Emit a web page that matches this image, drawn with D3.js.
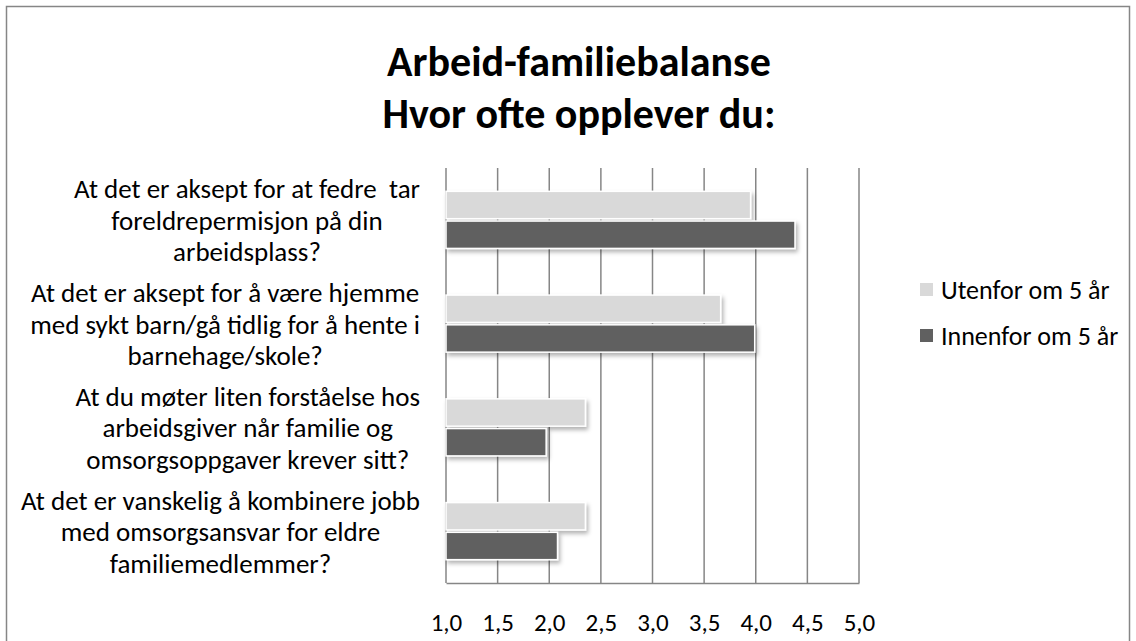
<!DOCTYPE html>
<html>
<head>
<meta charset="utf-8">
<script src="https://cdn.jsdelivr.net/npm/d3@7"></script>
<style>
  body { margin: 0; background: #fff; }
  text { font-family: Carlito, Calibri, Lato, "Open Sans", sans-serif; fill: #000; }
</style>
</head>
<body>
<div id="chart"></div>
<script>
let width = 1136;
let height = 641;

// data
const categoryLines = [
  ["At det er aksept for at fedre  tar", "foreldrepermisjon på din", "arbeidsplass?"],
  ["At det er aksept for å være hjemme", "med sykt barn/gå tidlig for å hente i", "barnehage/skole?"],
  ["At du møter liten forståelse hos", "arbeidsgiver når familie og", "omsorgsoppgaver krever sitt?"],
  ["At det er vanskelig å kombinere jobb", "med omsorgsansvar for eldre", "familiemedlemmer?"]
];
const categories = categoryLines.map(d => d.join(" "));
const seriesNames = ["Utenfor om 5 år", "Innenfor om 5 år"];
const utenfor = [3.95, 3.66, 2.35, 2.35];
const innenfor = [4.38, 3.99, 1.97, 2.08];
const xTicks = [1.0, 1.5, 2.0, 2.5, 3.0, 3.5, 4.0, 4.5, 5.0];
const colors = ["#d9d9d9", "#606060"];

let svg = d3.select("#chart")
  .append("svg")
  .attr("width", width)
  .attr("height", height);

let defs = svg.append("defs");
defs.append("filter")
  .attr("id", "shadow")
  .attr("x", "-10%").attr("y", "-30%")
  .attr("width", "130%").attr("height", "180%")
  .append("feDropShadow")
  .attr("dx", 2).attr("dy", 3)
  .attr("stdDeviation", 2)
  .attr("flood-color", "#000")
  .attr("flood-opacity", 0.3);

svg.append("rect")
  .attr("x", 0).attr("y", 0)
  .attr("width", width).attr("height", height)
  .attr("fill", "#fff");

// outer chart border
svg.append("rect")
  .attr("x", 6.5).attr("y", 6.5)
  .attr("width", 1123).attr("height", 660)
  .attr("fill", "none")
  .attr("stroke", "#868686")
  .attr("stroke-width", 1.5);

// title
let title = svg.append("text")
  .attr("text-anchor", "middle")
  .attr("font-weight", "bold")
  .attr("font-size", 42);
title.append("tspan").attr("x", 579).attr("y", 76).text("Arbeid-familiebalanse");
title.append("tspan").attr("x", 579).attr("y", 128).text("Hvor ofte opplever du:");

let x = d3.scaleLinear().domain([1, 5]).range([446, 859]);
let y = d3.scaleBand().domain(categories).range([168, 583])
  .paddingInner(0.45).paddingOuter(0.225);
let ySub = d3.scaleBand().domain(seriesNames).range([0, y.bandwidth()]).paddingInner(0.08);
let band = d3.scaleBand().domain(categories).range([168, 583]);

// gridlines
svg.append("g")
  .selectAll("line")
  .data(xTicks)
  .enter()
  .append("line")
  .attr("x1", d => x(d)).attr("x2", d => x(d))
  .attr("y1", 168).attr("y2", 583)
  .attr("stroke", "#868686")
  .attr("stroke-width", 1.5);

// x axis
let xAxis = svg.append("g")
  .attr("transform", "translate(0,583)")
  .call(d3.axisBottom(x).tickValues(xTicks).tickSize(0).tickPadding(30)
    .tickFormat(d => d3.format(".1f")(d).replace(".", ",")));
xAxis.select(".domain").attr("stroke", "#868686").attr("stroke-width", 1.5);
xAxis.selectAll("text")
  .attr("font-size", 25)
  .attr("font-family", "Carlito, Calibri, Lato, sans-serif")
  .attr("fill", "#000");

// bars
const series = [utenfor, innenfor];
series.forEach((vals, s) => {
  svg.append("g")
    .selectAll("rect")
    .data(vals)
    .enter()
    .append("rect")
    .attr("x", x(1))
    .attr("y", (d, i) => y(categories[i]) + ySub(seriesNames[s]))
    .attr("width", d => x(d) - x(1))
    .attr("height", ySub.bandwidth())
    .attr("fill", colors[s])
    .attr("stroke", "#fff")
    .attr("stroke-width", 1.5)
    .attr("filter", "url(#shadow)");
});

// category labels
let lineH = 31.5;
categoryLines.forEach((lines, i) => {
  let cy = band(categories[i]) + band.bandwidth() / 2;
  let g = svg.append("g");
  let t = g.append("text")
    .attr("font-size", 27)
    .attr("text-anchor", "middle")
    .attr("dominant-baseline", "central");
  lines.forEach((ln, j) => {
    t.append("tspan")
      .attr("x", 0)
      .attr("y", cy + (j - (lines.length - 1) / 2) * lineH)
      .style("white-space", "pre")
      .text(ln);
  });
  let w = t.node().getBBox().width;
  g.attr("transform", `translate(${420 - w / 2},0)`);
});

// legend
let legend = svg.append("g");
seriesNames.forEach((name, i) => {
  let ly = 290 + i * 46;
  legend.append("rect")
    .attr("x", 920).attr("y", ly - 7)
    .attr("width", 13).attr("height", 13)
    .attr("fill", colors[i]);
  legend.append("text")
    .attr("x", 941).attr("y", ly)
    .attr("dominant-baseline", "central")
    .attr("font-size", 26)
    .text(name);
});
</script>
</body>
</html>
